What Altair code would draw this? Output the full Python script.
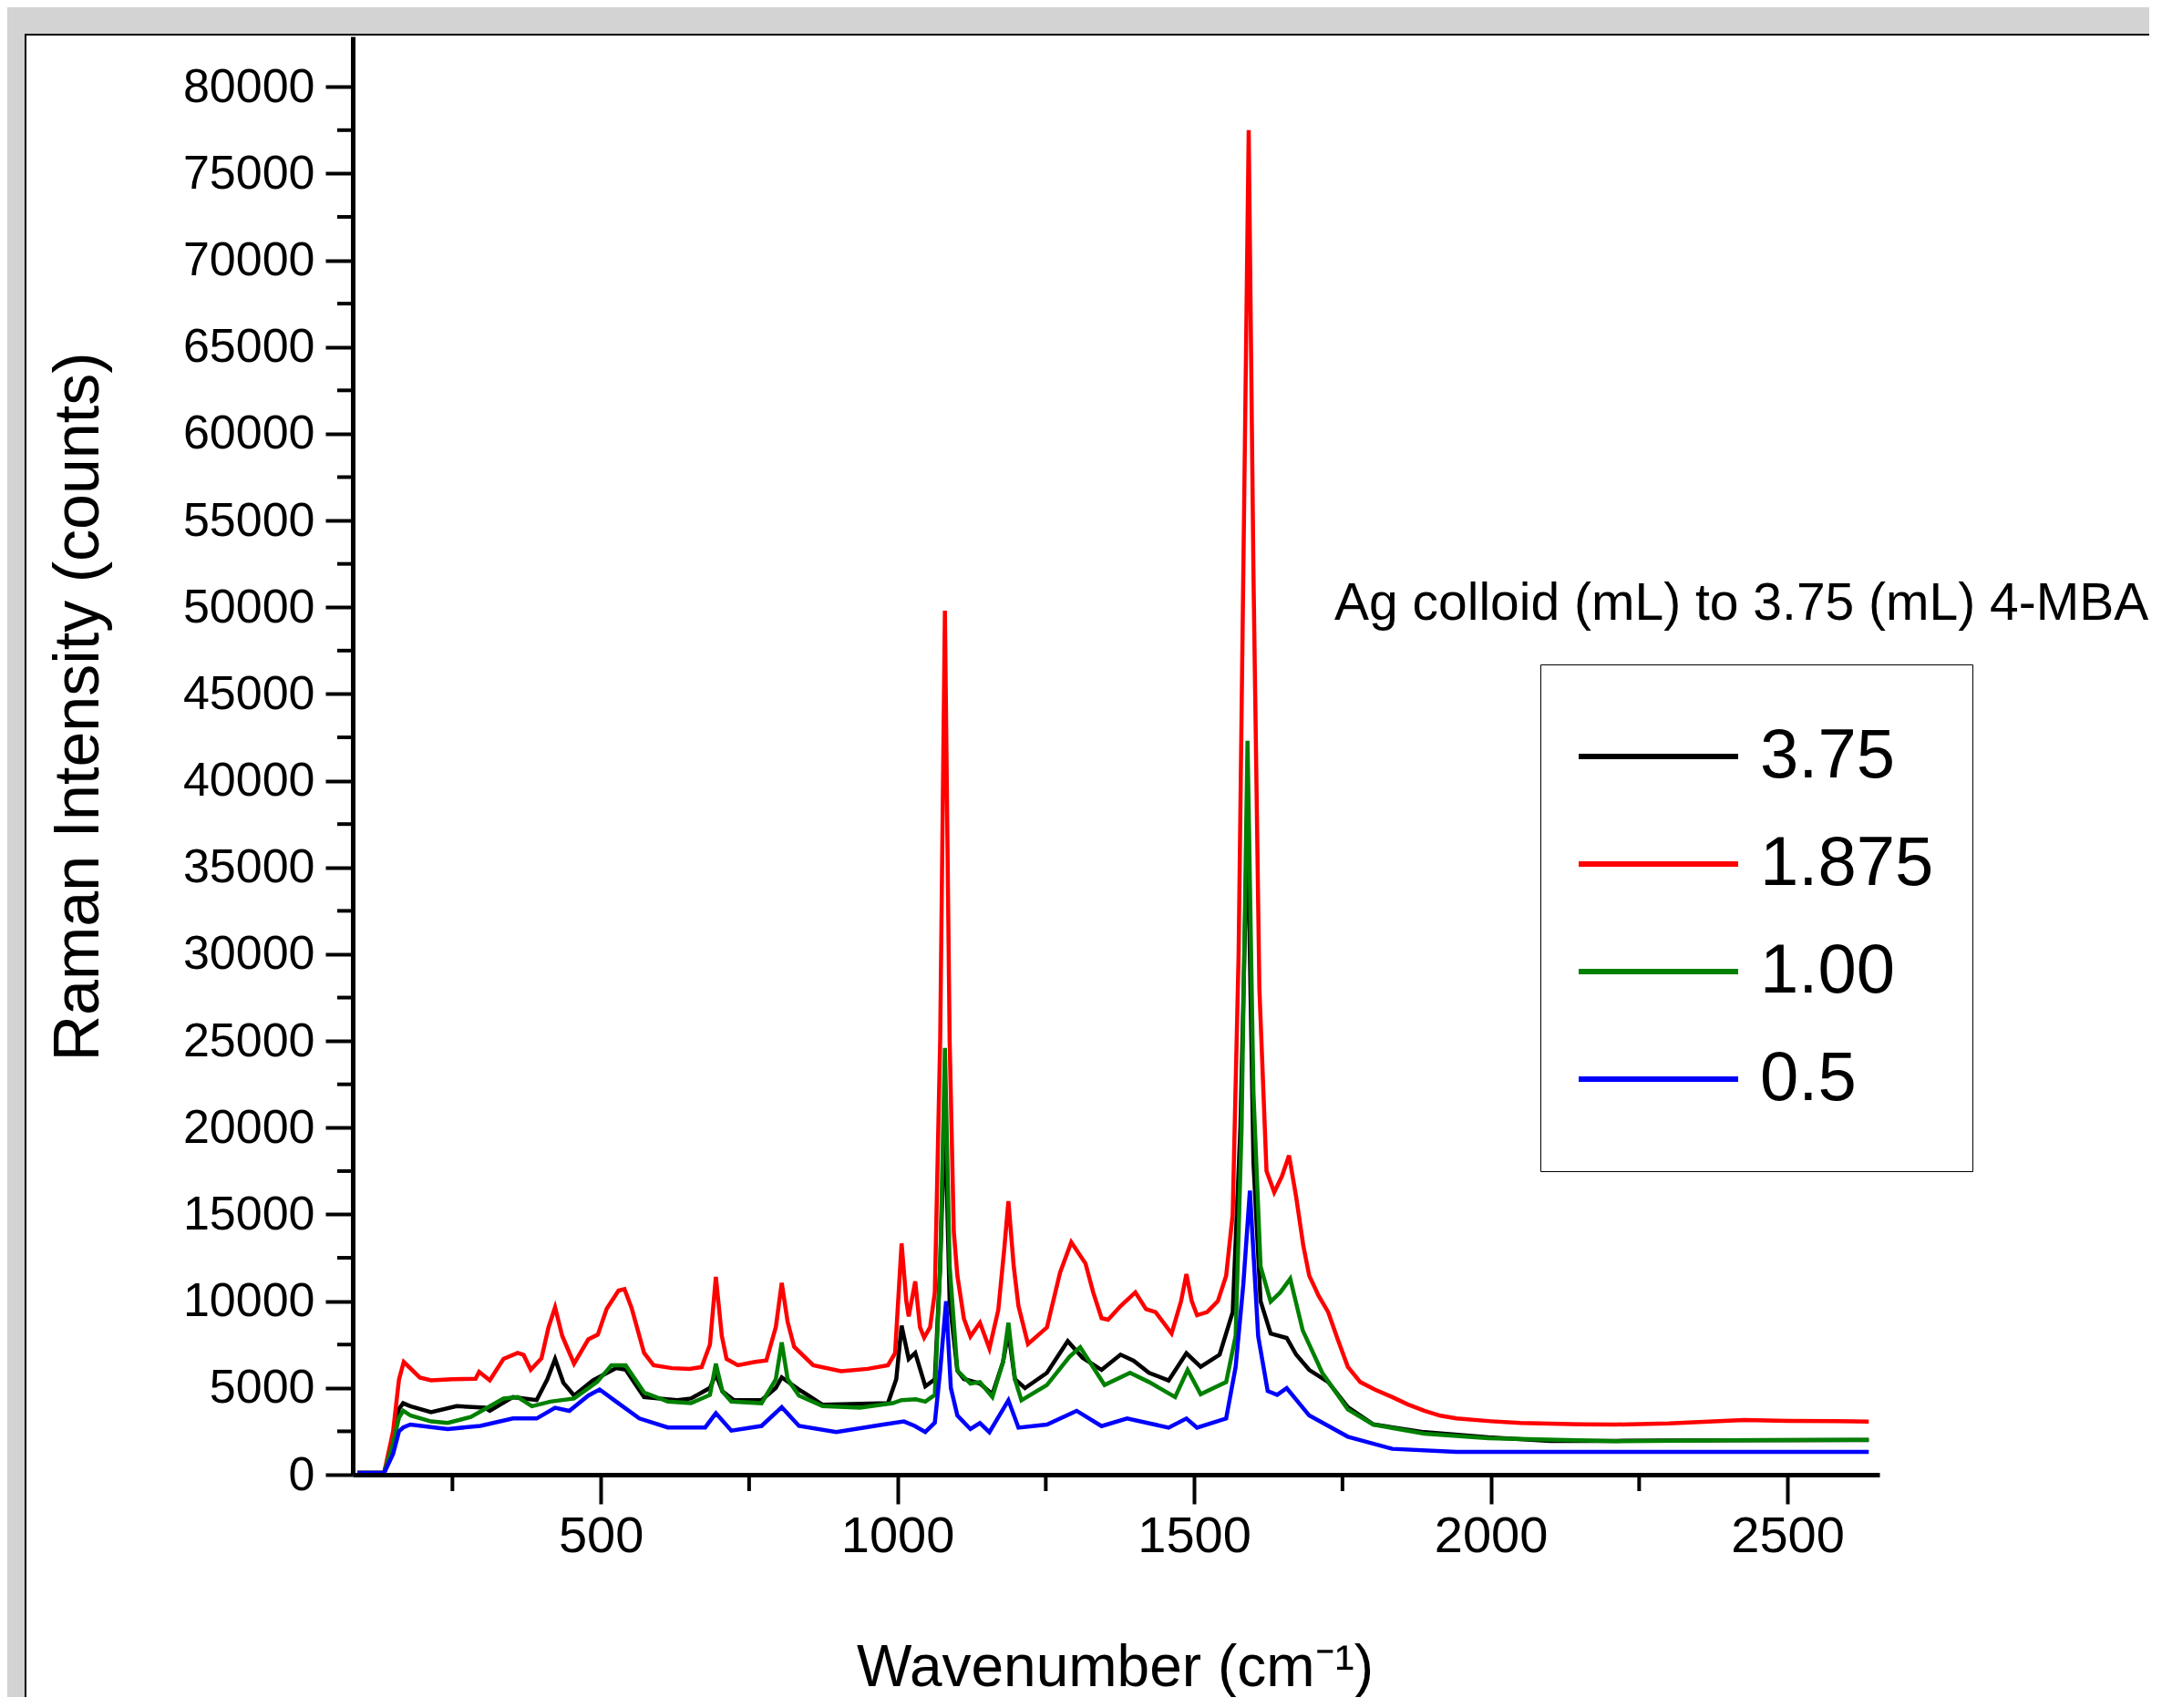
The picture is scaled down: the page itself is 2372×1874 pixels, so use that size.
import altair as alt
import pandas as pd

# ---------------- data ----------------
SERIES = ["3.75", "1.875", "1.00", "0.5"]
COLORS = ["#000000", "#ff0000", "#008000", "#0000ff"]

WN_375 = [90, 135, 150, 160, 167, 179, 214, 257, 305, 313, 352, 392, 410, 423, 437, 455, 487, 526, 542, 573,
          629, 652, 684, 694, 705, 724, 771, 795, 805, 834, 850, 874, 984, 998, 1007, 1019, 1030, 1047, 1063,
          1072, 1080, 1088, 1101, 1112, 1139, 1160, 1178, 1187, 1198, 1215, 1252, 1287, 1312, 1344, 1376, 1398,
          1424, 1457, 1487, 1511, 1543, 1565, 1578, 1590, 1600, 1612, 1629, 1656, 1672, 1694, 1726, 1759, 1802,
          1888, 1996, 2100, 2211, 2400, 2637]
I_375 = [100, 120, 2000, 3800, 4120, 3950, 3600, 3950, 3860, 3680, 4470, 4300, 5500, 6670, 5300, 4560, 5440,
         6140, 6050, 4470, 4300, 4390, 5000, 5800, 4800, 4300, 4300, 5000, 5610, 4910, 4560, 4030, 4120, 5500,
         8590, 6670, 7020, 5090, 5500, 12000, 21000, 10000, 6000, 5520, 5250, 4640, 6500, 8200, 5500, 4990,
         5870, 7700, 6740, 6040, 6920, 6570, 5870, 5430, 7000, 6220, 6920, 9370, 20000, 38000, 18000, 10000,
         8140, 7880, 6920, 6040, 5340, 3900, 2900, 2450, 2150, 1950, 1950, 1980, 2000]

WN_1875 = [90, 135, 150, 160, 168, 180, 195, 214, 250, 289, 295, 313, 336, 360, 370, 382, 400, 412, 423, 435,
           455, 479, 495, 510, 530, 540, 552, 573, 589, 620, 650, 670, 684, 694, 704, 712, 731, 760, 779, 795,
           805, 815, 826, 858, 905, 950, 984, 996, 1007, 1015, 1019, 1030, 1038, 1045, 1055, 1063, 1072, 1080,
           1088, 1095, 1101, 1112, 1123, 1139, 1155, 1170, 1180, 1187, 1196, 1204, 1220, 1252, 1274, 1293, 1317,
           1330, 1344, 1355, 1376, 1401, 1419, 1435, 1462, 1478, 1487, 1496, 1505, 1522, 1540, 1554, 1565, 1575,
           1584, 1592, 1600, 1610, 1622, 1635, 1648, 1660, 1672, 1684, 1694, 1710, 1726, 1742, 1759, 1780, 1805,
           1834, 1860, 1888, 1915, 1942, 2000, 2050, 2150, 2211, 2300, 2427, 2500, 2580, 2637]
I_1875 = [100, 120, 2500, 5500, 6500, 6100, 5600, 5440, 5500, 5530, 5930, 5440, 6670, 7020, 6900, 6050, 6700,
          8500, 9650, 8000, 6400, 7800, 8070, 9560, 10610, 10700, 9600, 7020, 6310, 6140, 6100, 6200, 7500,
          11400, 8000, 6670, 6310, 6500, 6580, 8500, 11050, 8800, 7370, 6310, 5960, 6100, 6310, 7000, 13330,
          10000, 9120, 11140, 8500, 7900, 8500, 10500, 25000, 49800, 25000, 14000, 11470, 9000, 7970, 8760,
          7270, 9500, 13000, 15760, 12000, 9720, 7530, 8490, 11640, 13400, 12170, 10500, 9020, 8930, 9720,
          10510, 9540, 9370, 8140, 10000, 11560, 10000, 9190, 9370, 10000, 11470, 15000, 30000, 55000, 77500,
          52000, 28000, 17500, 16280, 17200, 18400, 16000, 13200, 11470, 10300, 9370, 7800, 6220, 5340, 4900,
          4470, 4050, 3680, 3400, 3240, 3080, 2980, 2900, 2890, 2950, 3150, 3100, 3080, 3060]

WN_100 = [90, 135, 150, 160, 167, 180, 214, 242, 281, 336, 360, 384, 415, 455, 494, 518, 542, 573, 613, 652,
          684, 694, 705, 720, 771, 795, 805, 815, 834, 874, 937, 992, 1007, 1031, 1047, 1063, 1072, 1080, 1088,
          1101, 1123, 1139, 1160, 1178, 1187, 1198, 1209, 1252, 1290, 1308, 1349, 1392, 1424, 1468, 1489, 1511,
          1554, 1570, 1580, 1590, 1600, 1612, 1629, 1645, 1662, 1683, 1716, 1759, 1802, 1888, 1996, 2211, 2400,
          2637]
I_100 = [100, 120, 1800, 3300, 3680, 3400, 3070, 2980, 3330, 4390, 4470, 3950, 4210, 4390, 5350, 6310, 6310,
         4740, 4210, 4120, 4600, 6400, 4800, 4210, 4120, 5500, 7630, 5500, 4560, 3950, 3860, 4120, 4300, 4350,
         4210, 4600, 12000, 24600, 12000, 6000, 5250, 5340, 4470, 6500, 8760, 5500, 4290, 5170, 6800, 7350,
         5170, 5870, 5340, 4470, 6040, 4640, 5340, 8000, 20000, 42300, 22000, 12000, 9980, 10500, 11290, 8320,
         5870, 3760, 2890, 2360, 2100, 1930, 1980, 2010]

WN_05 = [90, 135, 150, 160, 167, 179, 242, 297, 352, 392, 423, 447, 479, 498, 526, 565, 613, 676, 694, 720,
         771, 805, 834, 897, 976, 1011, 1029, 1047, 1063, 1072, 1082, 1090, 1101, 1123, 1139, 1155, 1187, 1204,
         1252, 1302, 1344, 1387, 1457, 1487, 1505, 1554, 1570, 1583, 1594, 1608, 1624, 1640, 1656, 1694, 1759,
         1834, 1942, 2211, 2637]
I_05 = [100, 110, 1200, 2500, 2720, 2890, 2630, 2810, 3240, 3240, 3860, 3680, 4560, 4910, 4210, 3240, 2720,
        2720, 3540, 2540, 2810, 3890, 2810, 2460, 2890, 3070, 2810, 2460, 3000, 6000, 10000, 5000, 3410, 2630,
        2980, 2450, 4290, 2710, 2890, 3680, 2800, 3240, 2710, 3240, 2710, 3240, 6220, 11000, 16370, 7970, 4820,
        4600, 4990, 3410, 2190, 1490, 1310, 1310, 1310]

X_TICKS = [500, 1000, 1500, 2000, 2500]
X_MINOR = [250, 750, 1250, 1750, 2250]
Y_TICKS = list(range(0, 80001, 5000))
Y_MINOR = list(range(2500, 80001, 5000))
X_DOMAIN = [82, 2655]
Y_DOMAIN = [0, 82900]

X_TITLE = "Wavenumber (cm\u207b\u00b9)"
Y_TITLE = "Raman Intensity (counts)"
LEGEND_TITLE = "Ag colloid (mL) to 3.75 (mL) 4-MBA"

# ---------------- build table ----------------
frames = []
for name, wn, it in [("3.75", WN_375, I_375), ("1.875", WN_1875, I_1875),
                     ("1.00", WN_100, I_100), ("0.5", WN_05, I_05)]:
    frames.append(pd.DataFrame({"wn": wn, "inten": it, "series": name}))
df = pd.concat(frames, ignore_index=True)

FONT = "Liberation Sans"
W, H = 1675, 1578

xs = alt.Scale(domain=X_DOMAIN, nice=False, zero=False)
ys = alt.Scale(domain=Y_DOMAIN, nice=False, zero=False)

x_axis = alt.Axis(
    values=X_TICKS, format="d", title=X_TITLE, grid=False, zindex=1,
    domainColor="black", domainWidth=5, tickColor="black", tickWidth=4, tickSize=32,
    labelFont=FONT, labelFontSize=56, labelColor="black", labelPadding=8,
    labelFlush=False, labelOverlap=False,
    titleFont=FONT, titleFontSize=64, titleFontWeight="normal", titleColor="black",
    titleX=836, titleY=212, titleBaseline="middle", titleAlign="center")
y_axis = alt.Axis(
    values=Y_TICKS, format="d", title=Y_TITLE, grid=False, zindex=1,
    domainColor="black", domainWidth=5, tickColor="black", tickWidth=4, tickSize=30,
    labelFont=FONT, labelFontSize=52, labelColor="black", labelPadding=12,
    labelFlush=False, labelOverlap=False,
    titleFont=FONT, titleFontSize=70, titleFontWeight="normal", titleColor="black",
    titleX=-301, titleY=735, titleBaseline="middle", titleAlign="center")

panel = alt.Chart(alt.Data(values=[{"p": 1}])).mark_rect(
    fill="white", stroke="black", strokeWidth=2
).encode(x=alt.value(-359), x2=alt.value(2100), y=alt.value(-2), y2=alt.value(1900))

lines = alt.Chart(df).mark_line(strokeWidth=4.5).encode(
    x=alt.X("wn:Q", scale=xs, axis=x_axis, title=X_TITLE),
    y=alt.Y("inten:Q", scale=ys, axis=y_axis, title=Y_TITLE),
    color=alt.Color("series:N", sort=SERIES,
                    scale=alt.Scale(domain=SERIES, range=COLORS),
                    legend=alt.Legend(title=None, orient="none", legendX=1303, legendY=689,
                                      direction="vertical", symbolType="stroke", symbolSize=32761,
                                      symbolStrokeWidth=6, symbolOffset=-9,
                                      labelFont=FONT, labelFontSize=76,
                                      labelColor="black", labelLimit=500, labelOffset=21,
                                      clipHeight=118, rowPadding=0, padding=42,
                                      strokeColor="black", fillColor="white")),
)

x_minor = alt.Chart(pd.DataFrame({"t": X_MINOR})).mark_rule(color="black", strokeWidth=4).encode(
    x=alt.X("t:Q", scale=xs, axis=x_axis, title=X_TITLE),
    y=alt.value(H), y2=alt.value(H + 18),
)
y_minor = alt.Chart(pd.DataFrame({"t": Y_MINOR})).mark_rule(color="black", strokeWidth=4).encode(
    y=alt.Y("t:Q", scale=ys, axis=y_axis, title=Y_TITLE),
    x=alt.value(-17), x2=alt.value(0),
)

ltitle = alt.Chart(alt.Data(values=[{"t": LEGEND_TITLE}])).mark_text(
    align="left", baseline="middle", fontSize=57, font=FONT, color="black"
).encode(x=alt.value(1077), y=alt.value(623), text="t:N")

chart = alt.layer(panel, lines, x_minor, y_minor, ltitle).properties(
    width=W, height=H,
    padding={"left": 379, "top": 32, "right": 296, "bottom": 244},
    autosize=alt.AutoSizeParams(type="none"),
    background="#d3d3d3",
).configure_view(strokeWidth=0)

chart.save("out.html", embed_options={"renderer": "svg", "actions": False})
